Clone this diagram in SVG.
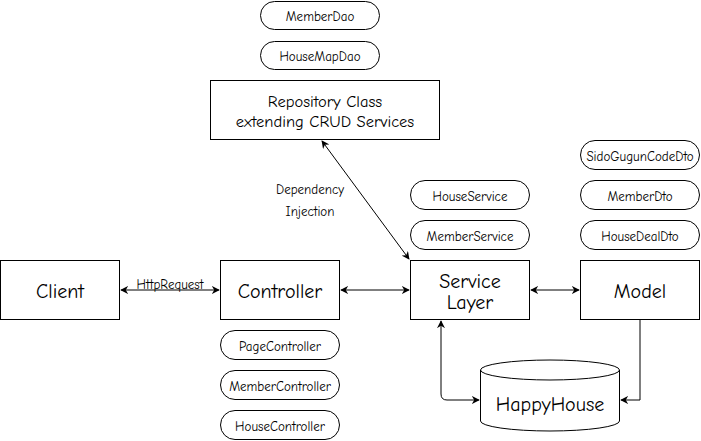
<svg xmlns="http://www.w3.org/2000/svg" width="701" height="441" viewBox="0 0 701 441">
<style>
text{font-family:"Comic Sans MS","Comic Neue","DejaVu Sans",sans-serif;fill:#000;text-anchor:middle;dominant-baseline:central}
.box{fill:#fff;stroke:#000;stroke-width:1}
.pill{fill:#fff;stroke:#000;stroke-width:1}
.big{font-size:20px}
.mid{font-size:16.5px}
.sm{font-size:13px}
.line{fill:none;stroke:#000;stroke-width:1}
</style>
<defs>
<marker id="ah" viewBox="0 0 10 10" refX="9" refY="5" markerWidth="8" markerHeight="8" orient="auto-start-reverse" markerUnits="userSpaceOnUse">
<path d="M0,0 L10,5 L0,10 L3,5 Z" fill="#000"/>
</marker>
</defs>
<rect width="701" height="441" fill="#fff"/>
<g id="connectors">
<line class="line" x1="121" y1="290" x2="219" y2="290" marker-start="url(#ah)" marker-end="url(#ah)"/>
<text class="sm" x="170" y="284">HttpRequest</text>
<line class="line" x1="341" y1="290" x2="409" y2="290" marker-start="url(#ah)" marker-end="url(#ah)"/>
<line class="line" x1="531" y1="290" x2="579" y2="290" marker-start="url(#ah)" marker-end="url(#ah)"/>
<line class="line" x1="322" y1="141" x2="409" y2="259" marker-start="url(#ah)" marker-end="url(#ah)"/>
<text class="sm" x="310" y="189">Dependency</text>
<text class="sm" x="310" y="211">Injection</text>
<path class="line" d="M441,321 L441,394 Q441,400 447,400 L479,400" marker-start="url(#ah)" marker-end="url(#ah)"/>
<path class="line" d="M640,320 L640,400 L621,400" marker-end="url(#ah)"/>
</g>
<g id="memberdao"><rect class="pill" x="260.5" y="1.5" width="119" height="28" rx="14"/><text class="sm" x="320" y="16">MemberDao</text></g>
<g id="housemapdao"><rect class="pill" x="260.5" y="41.5" width="119" height="28" rx="14"/><text class="sm" x="320" y="56">HouseMapDao</text></g>
<g id="repository"><rect class="box" x="210.5" y="80.5" width="229" height="59"/><text class="mid" x="325" y="101">Repository Class</text><text class="mid" x="325" y="121">extending CRUD Services</text></g>
<g id="client"><rect class="box" x="0.5" y="260.5" width="119" height="59"/><text class="big" x="60" y="291">Client</text></g>
<g id="controller"><rect class="box" x="220.5" y="260.5" width="119" height="59"/><text class="big" x="280" y="291">Controller</text></g>
<g id="pagecontroller"><rect class="pill" x="220.5" y="330.5" width="119" height="29" rx="14.5"/><text class="sm" x="280" y="346">PageController</text></g>
<g id="membercontroller"><rect class="pill" x="220.5" y="370.5" width="119" height="29" rx="14.5"/><text class="sm" x="280" y="386">MemberController</text></g>
<g id="housecontroller"><rect class="pill" x="220.5" y="410.5" width="119" height="29" rx="14.5"/><text class="sm" x="280" y="426">HouseController</text></g>
<g id="houseservice"><rect class="pill" x="410.5" y="180.5" width="119" height="29" rx="14.5"/><text class="sm" x="470" y="196">HouseService</text></g>
<g id="memberservice"><rect class="pill" x="410.5" y="220.5" width="119" height="29" rx="14.5"/><text class="sm" x="470" y="236">MemberService</text></g>
<g id="servicelayer"><rect class="box" x="410.5" y="260.5" width="119" height="59"/><text class="big" x="470" y="281">Service</text><text class="big" x="470" y="302">Layer</text></g>
<g id="sidoguguncodedto"><rect class="pill" x="580.5" y="140.5" width="119" height="29" rx="14.5"/><text class="sm" x="640" y="156">SidoGugunCodeDto</text></g>
<g id="memberdto"><rect class="pill" x="580.5" y="180.5" width="119" height="29" rx="14.5"/><text class="sm" x="640" y="196">MemberDto</text></g>
<g id="housedealdto"><rect class="pill" x="580.5" y="220.5" width="119" height="29" rx="14.5"/><text class="sm" x="640" y="236">HouseDealDto</text></g>
<g id="model"><rect class="box" x="580.5" y="260.5" width="119" height="59"/><text class="big" x="640" y="291">Model</text></g>
<g id="happyhouse">
<path class="box" d="M480.5,370 A69.5,10 0 0 1 619.5,370 L619.5,421 A69.5,10 0 0 1 480.5,421 Z"/>
<path class="line" d="M480.5,370 A69.5,10 0 0 0 619.5,370"/>
<text class="big" x="550" y="404">HappyHouse</text>
</g>
</svg>
